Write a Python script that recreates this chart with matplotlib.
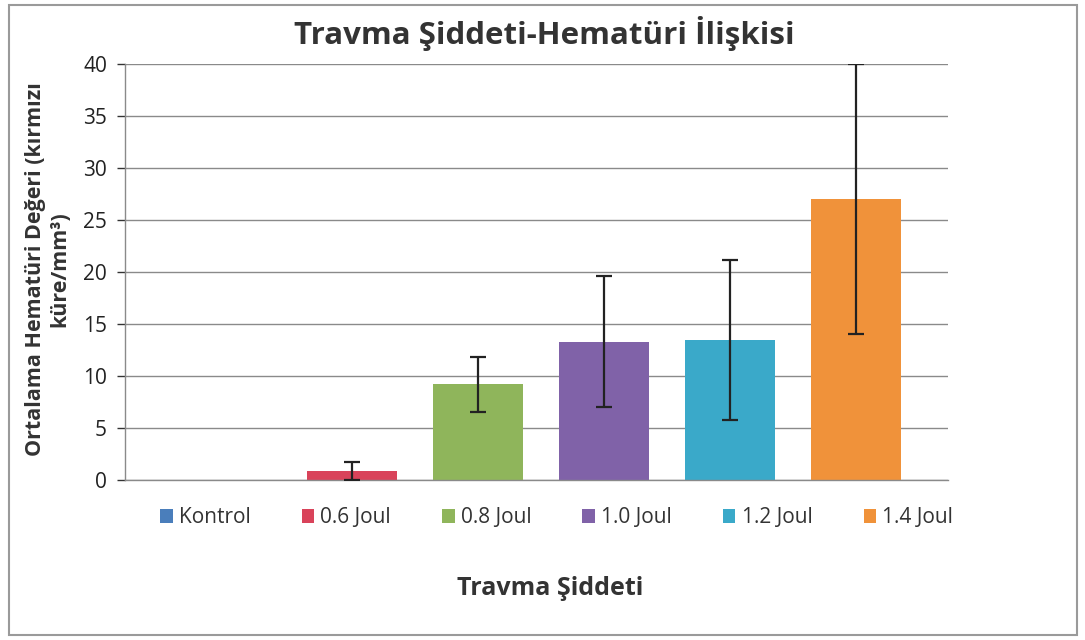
import matplotlib
matplotlib.use("Agg")
import matplotlib.pyplot as plt
from matplotlib.patches import Patch, Rectangle

categories = ["Kontrol", "0.6 Joul", "0.8 Joul", "1.0 Joul", "1.2 Joul", "1.4 Joul"]
means = [0.0, 0.85, 9.2, 13.3, 13.5, 27.0]
errors = [0.0, 0.85, 2.65, 6.3, 7.7, 13.0]
colors = ["#4a7ebb", "#d9435a", "#8fb55b", "#8062a8", "#3aa9c9", "#f0923a"]
yticks = [0, 5, 10, 15, 20, 25, 30, 35, 40]

plt.rcParams['font.family'] = ['Open Sans', 'DejaVu Sans']

fig = plt.figure(figsize=(10.85, 6.4), dpi=100)
ax = fig.add_axes([0.1152, 0.25, 0.7585, 0.65])

x = list(range(len(categories)))
for i in x:
    ax.bar(i, means[i], width=0.71, color=colors[i], zorder=2)
    if errors[i] > 0:
        ax.errorbar(i, means[i], yerr=errors[i], fmt='none', ecolor='#222222',
                    elinewidth=1.6, capsize=6, capthick=1.6, zorder=3)

ax.set_xlim(-0.80, 5.73)
ax.set_ylim(0, 40)
ax.set_yticks(yticks)
ax.set_xticks([])
ax.tick_params(axis='y', labelsize=15, colors='#333333', length=6, width=1, direction='out', pad=7)
for lab in ax.get_yticklabels():
    lab.set_color('#222222')
ax.grid(axis='y', color='#8a8a8a', linewidth=1.0, zorder=0)
for s in ['top', 'right']:
    ax.spines[s].set_visible(False)
ax.spines['left'].set_color('#8a8a8a')
ax.spines['bottom'].set_color('#8a8a8a')
ax.spines['left'].set_linewidth(1.0)
ax.spines['bottom'].set_linewidth(1.0)

fig.text(0.502, 0.947, "Travma Şiddeti-Hematüri İlişkisi", ha='center', va='center',
         fontsize=22.5, fontweight='bold', color='#333333')

fig.text(0.044, 0.58, "Ortalama Hematüri Değeri (kırmızı\nküre/mm³)", ha='center', va='center',
         rotation=90, fontsize=15.5, fontweight='bold', color='#333333', linespacing=1.25)

fig.text(0.507, 0.081, "Travma Şiddeti", ha='center', va='center',
         fontsize=18, fontweight='bold', color='#333333')

handles = [Patch(facecolor=c, edgecolor='none') for c in colors]
leg = fig.legend(handles, categories, loc='center', bbox_to_anchor=(0.513, 0.191),
                 ncol=6, frameon=False, fontsize=15, handlelength=0.6, handleheight=0.6,
                 handletextpad=0.3, columnspacing=2.45)
for t in leg.get_texts():
    t.set_color('#333333')

fig.patches.append(Rectangle((0.008, 0.008), 0.985, 0.984, transform=fig.transFigure,
                             fill=False, edgecolor='#9a9a9a', linewidth=1.5))

fig.savefig("out.png", dpi=100)
